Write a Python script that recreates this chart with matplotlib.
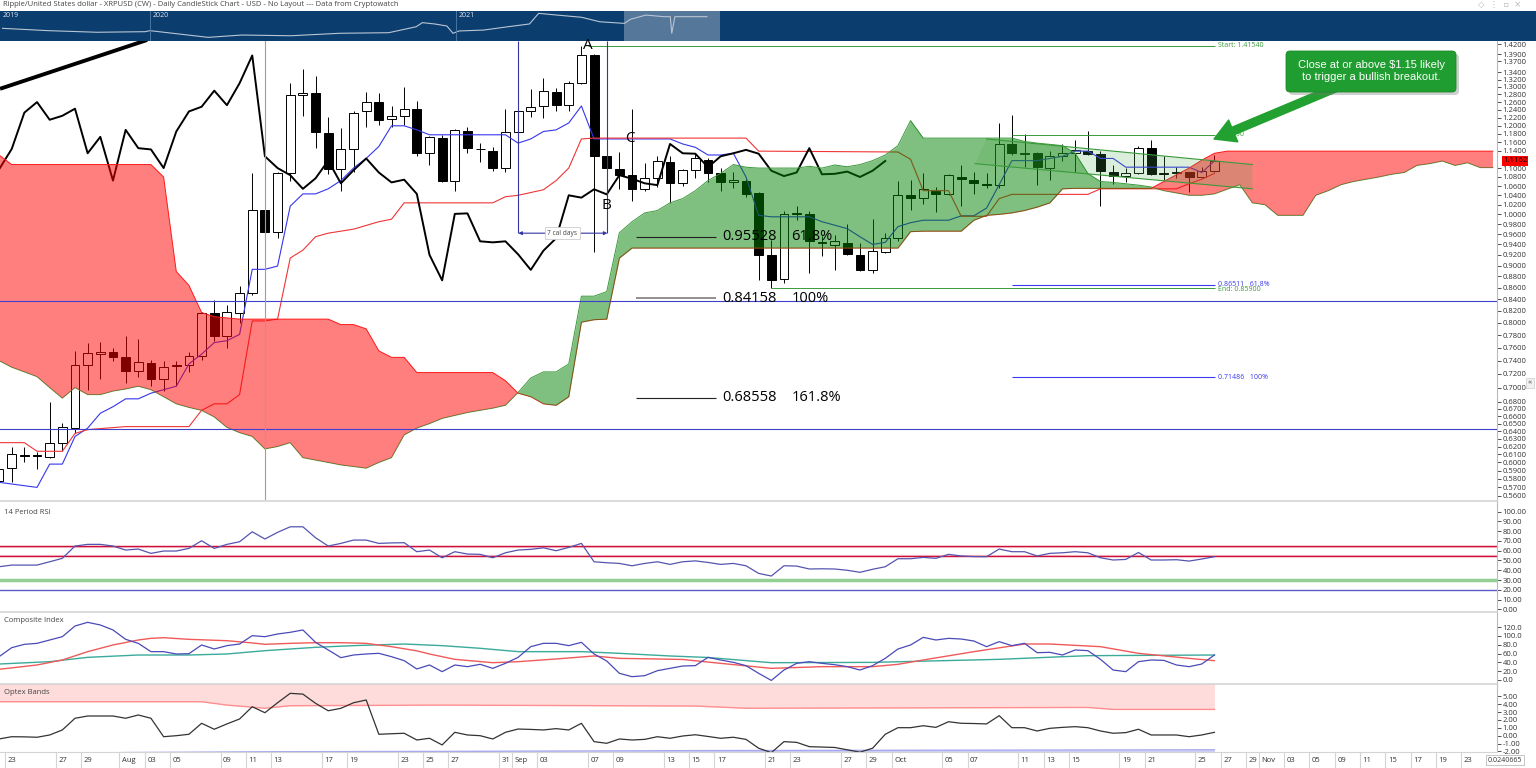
import numpy as np
import pandas as pd
import matplotlib
matplotlib.use("Agg")
import matplotlib.pyplot as plt
from matplotlib.patches import FancyBboxPatch, FancyArrowPatch, Polygon
from matplotlib.transforms import IdentityTransform
from matplotlib.ticker import FixedLocator, FormatStrFormatter, NullLocator

W, H = 1536, 768
plt.rcParams['font.family'] = ['Open Sans', 'DejaVu Sans']

# bar 0 = 2021-07-23, bar 95 = 2021-10-26 (last candle); after that the axis counts business days
first_day = pd.Timestamp('2021-07-23')
last_day = pd.Timestamp('2021-10-26')
last_bar = 95

# daily candles, bars -1 .. 95
opens = [0.578, 0.593, 0.609, 0.609, 0.607, 0.625, 0.644, 0.733, 0.750, 0.753,
         0.745, 0.725, 0.737, 0.713, 0.732, 0.733, 0.747, 0.816, 0.778, 0.817,
         0.850, 1.008, 0.964, 1.090, 1.279, 1.283, 1.182, 1.097, 1.144, 1.236,
         1.260, 1.217, 1.225, 1.243, 1.134, 1.171, 1.072, 1.188, 1.145, 1.139,
         1.100, 1.186, 1.238, 1.250, 1.287, 1.252, 1.310, 1.387, 1.127, 1.097,
         1.084, 1.054, 1.078, 1.113, 1.066, 1.095, 1.118, 1.088, 1.068, 1.072,
         1.045, 0.920, 0.875, 1.000, 1.000, 0.942, 0.939, 0.943, 0.920, 0.892,
         0.926, 0.952, 1.040, 1.035, 1.050, 1.042, 1.081, 1.074, 1.065, 1.063,
         1.156, 1.135, 1.134, 1.101, 1.127, 1.134, 1.140, 1.133, 1.092, 1.082,
         1.088, 1.146, 1.089, 1.088, 1.091, 1.080, 1.094]
highs = [0.597, 0.620, 0.620, 0.613, 0.679, 0.651, 0.755, 0.767, 0.769, 0.759,
         0.778, 0.774, 0.741, 0.740, 0.740, 0.754, 0.818, 0.839, 0.829, 0.862,
         1.088, 1.009, 1.091, 1.310, 1.348, 1.330, 1.222, 1.194, 1.238, 1.287,
         1.283, 1.250, 1.300, 1.263, 1.175, 1.177, 1.192, 1.197, 1.158, 1.148,
         1.242, 1.238, 1.295, 1.325, 1.298, 1.315, 1.4154, 1.390, 1.130, 1.136,
         1.243, 1.111, 1.127, 1.127, 1.098, 1.134, 1.122, 1.100, 1.092, 1.075,
         1.047, 0.948, 1.007, 1.017, 1.007, 0.956, 0.958, 0.981, 0.943, 0.991,
         0.963, 1.070, 1.074, 1.088, 1.059, 1.086, 1.107, 1.091, 1.089, 1.207,
         1.228, 1.180, 1.136, 1.139, 1.155, 1.165, 1.188, 1.139, 1.107, 1.100,
         1.152, 1.165, 1.128, 1.102, 1.092, 1.103, 1.130]
lows = [0.574, 0.576, 0.600, 0.592, 0.606, 0.614, 0.637, 0.697, 0.712, 0.740,
        0.707, 0.715, 0.702, 0.695, 0.702, 0.723, 0.741, 0.771, 0.760, 0.800,
        0.847, 0.963, 0.952, 1.072, 1.225, 1.146, 1.086, 1.050, 1.092, 1.198,
        1.202, 1.198, 1.202, 1.127, 1.106, 1.069, 1.050, 1.134, 1.113, 1.094,
        1.092, 1.184, 1.222, 1.220, 1.236, 1.238, 1.308, 0.926, 1.097, 1.054,
        1.028, 1.050, 1.059, 1.023, 1.060, 1.078, 1.068, 1.050, 1.056, 1.037,
        0.873, 0.859, 0.869, 0.988, 0.887, 0.917, 0.891, 0.920, 0.890, 0.887,
        0.923, 0.946, 1.008, 1.022, 1.005, 1.040, 1.018, 1.043, 1.055, 1.055,
        1.130, 1.103, 1.063, 1.074, 1.117, 1.092, 1.130, 1.018, 1.065, 1.068,
        1.086, 1.084, 1.074, 1.078, 1.047, 1.078, 1.092]
closes = [0.592, 0.610, 0.608, 0.608, 0.624, 0.645, 0.733, 0.751, 0.754, 0.745,
          0.724, 0.738, 0.713, 0.730, 0.734, 0.747, 0.817, 0.778, 0.818, 0.850,
          1.009, 0.964, 1.090, 1.279, 1.285, 1.186, 1.097, 1.144, 1.233, 1.260,
          1.215, 1.225, 1.243, 1.134, 1.173, 1.072, 1.190, 1.146, 1.143, 1.100,
          1.186, 1.236, 1.248, 1.290, 1.252, 1.310, 1.387, 1.127, 1.100, 1.084,
          1.054, 1.077, 1.117, 1.066, 1.095, 1.122, 1.090, 1.068, 1.074, 1.043,
          0.920, 0.873, 1.001, 1.002, 0.946, 0.944, 0.946, 0.921, 0.892, 0.928,
          0.952, 1.040, 1.035, 1.053, 1.042, 1.084, 1.076, 1.066, 1.062, 1.156,
          1.134, 1.133, 1.102, 1.127, 1.134, 1.142, 1.133, 1.094, 1.082, 1.090,
          1.146, 1.086, 1.087, 1.092, 1.080, 1.094, 1.1162]

# Ichimoku lines (bar, price)
tenkan_bar = [-1, 2, 3, 4, 5, 6, 7, 8, 9, 10, 11, 12, 13, 14, 15, 16, 17, 18, 19, 20,
              21, 22, 23, 24, 25, 26, 27, 28, 29, 30, 31, 32, 33, 39, 40, 41, 42, 43,
              44, 45, 46, 52, 53, 54, 55, 56, 57, 58, 59, 60, 63, 64, 65, 66, 67, 68,
              69, 70, 71, 72, 74, 75, 76, 77, 78, 79, 81, 82, 83, 84, 85, 86, 87, 88,
              93, 94, 95]
tenkan = [0.576, 0.570, 0.598, 0.598, 0.633, 0.644, 0.664, 0.673, 0.684, 0.684,
          0.692, 0.697, 0.702, 0.735, 0.750, 0.768, 0.771, 0.781, 0.893, 0.893,
          0.899, 1.017, 1.043, 1.043, 1.054, 1.072, 1.100, 1.122, 1.150, 1.200,
          1.200, 1.190, 1.178, 1.178, 1.158, 1.168, 1.186, 1.190, 1.207, 1.250,
          1.168, 1.168, 1.156, 1.148, 1.130, 1.130, 1.134, 1.080, 0.998, 0.995,
          0.995, 0.985, 0.978, 0.971, 0.955, 0.940, 0.944, 0.975, 0.983, 0.988,
          0.988, 0.997, 0.997, 1.013, 1.063, 1.117, 1.117, 1.122, 1.127, 1.139,
          1.139, 1.122, 1.122, 1.102, 1.102, 1.090, 1.116]
kijun_bar = [-1, 1, 2, 4, 5, 6, 9, 14, 15, 16, 17, 18, 19, 20, 21, 22, 23, 24, 25, 27,
             29, 30, 31, 38, 39, 40, 42, 43, 44, 45, 46, 58, 59, 70, 71, 72, 74, 75,
             77, 78, 79, 85, 86, 92, 93, 94, 95]
kijun = [0.625, 0.625, 0.614, 0.614, 0.637, 0.642, 0.646, 0.646, 0.668, 0.677,
         0.677, 0.690, 0.803, 0.803, 0.806, 0.914, 0.929, 0.955, 0.962, 0.970,
         0.985, 0.990, 1.024, 1.024, 1.037, 1.040, 1.052, 1.072, 1.100, 1.168,
         1.170, 1.170, 1.139, 1.137, 1.120, 1.050, 1.050, 0.996, 0.996, 1.033,
         1.042, 1.042, 1.054, 1.054, 1.065, 1.075, 1.088]

# cloud, bars -1 .. 117
span_b = ([1.13] + [1.108] * 12 + [1.08, 0.889, 0.864, 0.817, 0.81, 0.808] + [0.806] * 8
          + [0.797, 0.797, 0.79, 0.755, 0.745, 0.745] + [0.722] * 7
          + [0.71, 0.692, 0.687, 0.677, 0.675, 0.687, 0.801, 0.805, 0.806, 0.914]
          + [0.933] * 22 + [0.965] + [0.966] * 4
          + [0.988, 0.998, 1.0, 1.003, 1.008, 1.015, 1.024, 1.054] + [1.055] * 7
          + [1.07, 1.085, 1.10, 1.118, 1.134] + [1.139] * 22)
span_a = ([0.74, 0.73, 0.723, 0.716, 0.70, 0.685, 0.70, 0.69, 0.69, 0.695, 0.698, 0.702,
           0.697, 0.687, 0.677, 0.672, 0.668, 0.659, 0.645, 0.638, 0.633, 0.617, 0.62,
           0.625, 0.606, 0.603, 0.60, 0.597, 0.595, 0.593, 0.60, 0.606]
          + [0.635, 0.644, 0.65, 0.657, 0.661, 0.665, 0.668, 0.671, 0.675, 0.693, 0.714,
             0.723, 0.723, 0.735, 0.845, 0.845, 0.853, 0.963, 0.985, 1.003, 1.008, 1.024,
             1.033, 1.05, 1.072, 1.088, 1.108, 1.102]
          + [1.10] * 4 + [1.104, 1.10, 1.107, 1.103, 1.108, 1.117, 1.13, 1.152, 1.213]
          + [1.17] * 8
          + [1.162, 1.158, 1.155, 1.152, 1.134, 1.088, 1.07, 1.068, 1.065, 1.062, 1.058,
             1.05, 1.045, 1.04, 1.04, 1.043]
          + [1.053, 1.063, 1.024, 1.02, 0.998, 0.998, 0.998, 1.04, 1.05, 1.063, 1.07,
             1.075, 1.08, 1.086, 1.09, 1.106, 1.11, 1.116, 1.106, 1.112, 1.101, 1.101])

price_ticks = [1.42, 1.39, 1.37, 1.34, 1.32, 1.30, 1.28, 1.26, 1.24, 1.22, 1.20, 1.18,
               1.16, 1.14, 1.10, 1.08, 1.06, 1.04, 1.02, 1.00, 0.98, 0.96, 0.94, 0.92,
               0.90, 0.88, 0.86, 0.84, 0.82, 0.80, 0.78, 0.76, 0.74, 0.72, 0.70, 0.68,
               0.67, 0.66, 0.65, 0.64, 0.63, 0.62, 0.61, 0.60, 0.59, 0.58, 0.57, 0.56]

# indicators, bars -1 .. 95
rsi = [43.6, 45.3, 45.3, 45.3, 48.7, 52.2, 64.8, 66.5, 66.5, 64.8, 60.7, 61.7, 57.3,
       59.7, 59.7, 62.4, 70.2, 62.4, 66.5, 69.2, 79.4, 72.0, 78.8, 84.5, 84.5, 73.3,
       64.8, 67.5, 70.9, 70.9, 67.5, 68.0, 68.2, 59.0, 60.7, 52.8, 59.0, 56.6, 56.3,
       52.8, 57.9, 60.7, 61.4, 63.0, 60.0, 63.4, 67.5, 48.7, 47.7, 47.0, 44.6, 47.0,
       48.7, 46.0, 48.7, 49.6, 48.0, 46.0, 47.0, 44.6, 36.8, 34.1, 44.6, 44.3, 41.3,
       41.5, 41.3, 40.0, 37.9, 41.0, 43.6, 51.8, 51.8, 53.2, 52.2, 56.3, 54.6, 54.0,
       53.9, 61.7, 59.0, 59.0, 54.6, 57.3, 57.9, 59.0, 57.9, 52.8, 50.5, 51.1, 58.2,
       50.5, 50.5, 50.8, 49.4, 51.5, 53.9]
rsi_levels = [65, 55, 30, 20]

composite = [52.8, 73.2, 80.8, 83, 90.6, 98.1, 122.3, 130.6, 124.6, 113.3,
             92.1, 83, 64.2, 64.2, 58.9, 59.6, 79.3, 70.2, 77.8, 81.5,
             100.4, 98.1, 104.2, 108, 113.3, 85.3, 68, 50.6, 56.6, 58.9,
             60.4, 52.8, 43.8, 24.9, 34, 18.9, 34, 30.2, 35.5, 26.4,
             37.7, 51.3, 75.5, 83, 83, 77.8, 85.3, 58.9, 43, 15.1,
             7.5, 9.8, 21.1, 26.4, 31.7, 32.5, 51.3, 45.3, 40, 32.5,
             15.1, -1.0, 22.6, 37.7, 41.5, 37.7, 34.7, 30.2, 22.6, 32.5,
             49, 70.2, 79.3, 96.6, 90.6, 94.3, 92.8, 88.3, 75.5, 86.8,
             77.8, 83, 61.9, 62.6, 56.6, 68, 66.5, 46.8, 22.6, 18.9,
             41.5, 45.3, 44.5, 34, 30.2, 36.2, 56.6]
ci_fast_bar = [-1, 2, 4, 6, 8, 10, 11, 12, 14, 17, 19, 20, 22, 24, 26, 28, 30, 32, 33, 35,
               38, 40, 43, 46, 48, 51, 53, 56, 60, 64, 68, 70, 72, 76, 80, 82, 86, 89, 93, 95]
ci_fast = [24.2, 34, 45.3, 64.2, 79.3, 90.6, 94.3, 95.8, 92.1, 89, 84, 80.8, 83, 84.5,
           84.5, 83, 75.5, 66, 58.9, 46.8, 39.2, 41.5, 47.6, 54.4, 49, 47.6, 46.5, 37.7,
           26.4, 30.2, 30.2, 35.5, 45.3, 64.2, 81.5, 81.5, 75.5, 60.4, 49, 43.8]
ci_slow_bar = [-1, 3, 6, 10, 14, 17, 20, 24, 27, 31, 34, 37, 40, 45, 48, 52, 55, 60, 68,
               78, 85, 95]
ci_slow = [36.2, 41.5, 51.3, 56.6, 56.6, 58.9, 66.4, 74, 77.8, 81.5, 77.8, 71.8, 64.2,
           64.2, 60.4, 54.4, 51, 39.2, 39.9, 46.8, 55.1, 56.6]

optex = [-0.42, -0.13, -0.15, -0.2, 0.09, 0.73, 2.22, 2.51, 2.51, 2.51,
         2.22, 2.64, 2.22, -0.13, 0.0, 0.18, 1.58, 0.82, 1.5, 2.13,
         3.69, 2.93, 4.2, 5.4, 5.3, 4.13, 3.18, 3.49, 4.2, 4.55,
         0.18, 0.25, 0.31, -0.55, -0.33, -1.18, 0.43, 0.09, 0.0, -0.42,
         0.43, 0.85, 0.8, 0.73, 0.9, 0.73, 1.58, -0.76, -0.97, -0.42,
         -0.55, -0.47, -0.13, -0.33, -0.04, 0.12, -0.1, -0.33, -0.2, -0.47,
         -1.6, -2.16, -0.76, -0.85, -1.4, -1.45, -1.5, -1.8, -2.1, -1.6,
         0.18, 1.02, 1.02, 1.27, 1.06, 1.78, 1.58, 1.55, 1.5, 2.55,
         1.02, 1.02, 0.6, 0.94, 1.06, 1.15, 1.02, 0.6, 0.31, 0.39,
         0.82, 0.09, 0.09, 0.09, -0.13, 0.09, 0.43]
optex_up_bar = [-1, 15, 17, 20, 22, 34, 54, 58, 85, 87, 95]
optex_up = [4.33, 4.33, 3.9, 3.5, 3.82, 3.9, 3.78, 3.5, 3.6, 3.35, 3.35]
optex_lo_bar = [-1, 9, 20, 35, 55, 75, 95]
optex_lo = [-2.4, -2.15, -2.05, -2.0, -1.9, -1.85, -1.8]

# navigator: whole history (year, price)
nav_year = [2019.518, 2019.668, 2019.827, 2019.984, 2020.0, 2020.19, 2020.30, 2020.46,
            2020.62, 2020.78, 2020.87, 2020.89, 2020.93, 2020.97, 2020.99, 2021.01,
            2021.09, 2021.17, 2021.24, 2021.27, 2021.33, 2021.41, 2021.47, 2021.55,
            2021.57, 2021.62, 2021.68, 2021.70, 2021.705, 2021.715, 2021.81, 2021.82]
nav_price = [0.87, 0.71, 0.60, 0.64, 0.71, 0.25, 0.41, 0.36, 0.53, 0.57, 0.98, 1.26,
             1.17, 1.03, 0.53, 0.69, 0.75, 0.98, 1.17, 1.90, 1.78, 1.63, 1.32, 1.21,
             1.49, 1.78, 1.67, 1.67, 0.53, 1.67, 1.67, 1.67]

date_labels = ['2021-07-23', '2021-07-27', '2021-07-29', '2021-08-01', '2021-08-03',
               '2021-08-05', '2021-08-09', '2021-08-11', '2021-08-13', '2021-08-17',
               '2021-08-19', '2021-08-23', '2021-08-25', '2021-08-27', '2021-08-31',
               '2021-09-01', '2021-09-03', '2021-09-07', '2021-09-09', '2021-09-13',
               '2021-09-15', '2021-09-17', '2021-09-21', '2021-09-23', '2021-09-27',
               '2021-09-29', '2021-10-01', '2021-10-05', '2021-10-07', '2021-10-11',
               '2021-10-13', '2021-10-15', '2021-10-19', '2021-10-21', '2021-10-25',
               '2021-10-27', '2021-10-29', '2021-11-01', '2021-11-03', '2021-11-05',
               '2021-11-09', '2021-11-11', '2021-11-15', '2021-11-17', '2021-11-19',
               '2021-11-23']


def bar_of(d):
    d = pd.Timestamp(d)
    if d <= last_day:
        return (d - first_day).days
    start = (last_day + pd.Timedelta(days=1)).date()
    return last_bar + int(np.busday_count(start, d.date())) + 1


def fr(x0, y0, x1, y1):
    return [x0 / W, 1 - y1 / H, (x1 - x0) / W, (y1 - y0) / H]


bars = np.arange(-1, -1 + len(opens))
o = np.array(opens); hi = np.array(highs); lo = np.array(lows); c = np.array(closes)
ck = np.arange(-1, -1 + len(span_a))
sa = np.array(span_a); sb = np.array(span_b)
XL = (-0.924, 117.32)

fig = plt.figure(figsize=(W / 100, H / 100), dpi=100)
ax_nav = fig.add_axes(fr(0, 11, W, 41))
ax = fig.add_axes(fr(0, 41, 1497, 500))
ax_rsi = fig.add_axes(fr(0, 501, 1497, 611))
ax_ci = fig.add_axes(fr(0, 612, 1497, 683))
ax_opt = fig.add_axes(fr(0, 684, 1497, 752))
ax_date = fig.add_axes(fr(0, 752, 1497, 768))

# ---- navigator
ax_nav.set_facecolor('#0b3d6f')
ax_nav.set_xlim(2019.5098, 2024.529)
ax_nav.set_ylim(0, 2.06)
ax_nav.set_xticks([]); ax_nav.set_yticks([])
for s in ax_nav.spines.values():
    s.set_visible(False)
ax_nav.plot(nav_year, nav_price, color='#b9c5d3', lw=0.8)
for yr in (2020.0, 2021.0):
    ax_nav.axvline(yr, color='#4d74a0', lw=0.7)
for yr, lab in ((2019.52, '2019'), (2020.01, '2020'), (2021.01, '2021')):
    ax_nav.text(yr, 2.0, lab, color='#dfe6ee', fontsize=5, va='top')
ax_nav.axvspan(2021.549, 2021.863, color='white', alpha=0.3, lw=0)

# ---- main price chart
ax.set_xlim(XL)
ax.set_yscale('log')
ax.set_ylim(0.5554, 1.4289)
ax.yaxis.tick_right()
ax.yaxis.set_major_locator(FixedLocator(price_ticks))
ax.yaxis.set_major_formatter(FormatStrFormatter('%.4f'))
ax.yaxis.set_minor_locator(NullLocator())
ax.tick_params(axis='y', labelsize=5.5, length=3, width=0.6, colors='#333333', pad=1)
ax.set_xticks([])
for s in ('top', 'left', 'bottom'):
    ax.spines[s].set_visible(False)
ax.spines['right'].set_color('#bbbbbb')

up = c >= o
ax.vlines(bars, lo, hi, color='black', lw=0.7, zorder=2)
ax.bar(bars, np.maximum(np.abs(c - o), 0.0008), bottom=np.minimum(o, c), width=0.7,
       color=np.where(up, 'white', 'black'), edgecolor='black', lw=0.7, zorder=3)

ax.plot(tenkan_bar, tenkan, color='#3535ee', lw=0.8, zorder=4)
ax.plot(kijun_bar, kijun, color='#f03535', lw=0.8, zorder=4)
ax.plot(bars[26:] - 26, c[26:], color='black', lw=1.4, zorder=4)

ax.plot(ck, sa, color='#3d9a3d', lw=0.7, zorder=4)
ax.plot(ck, sb, color='#ff2020', lw=0.7, zorder=4)
ax.fill_between(ck, sa, sb, where=sa >= sb, interpolate=True, color=(0, 0.5, 0),
                alpha=0.5, lw=0, zorder=5)
ax.fill_between(ck, sa, sb, where=sa < sb, interpolate=True, color=(1, 0, 0),
                alpha=0.5, lw=0, zorder=5)

# descending channel
chan = [(77.0, 1.168), (98.0, 1.108), (98.0, 1.054), (76.1, 1.110)]
ax.add_patch(Polygon(chan, closed=True, fc=(0.3, 0.65, 0.3), alpha=0.2, ec='none', zorder=6))
ax.plot([77.0, 98.0], [1.168, 1.108], color='#3a9a3a', lw=0.8, zorder=6)
ax.plot([76.1, 98.0], [1.110, 1.054], color='#3a9a3a', lw=0.8, zorder=6)

# trendline top-left
ax.plot([-0.92, 10.7], [1.295, 1.432], color='black', lw=2.8, solid_capstyle='butt', zorder=7)

# horizontal levels
ax.axhline(0.8365, color='#4040d0', lw=0.8, zorder=6)
ax.axhline(0.6424, color='#4040d0', lw=0.8, zorder=6)
ax.axvline(20.0, color='#aaa274', lw=0.8, zorder=6)

green = '#3a9a3a'
ax.hlines(1.4154, 45.5, 95.05, color=green, lw=0.7, zorder=6)
ax.hlines(1.1779, 79.0, 95.05, color=green, lw=0.7, zorder=6)
ax.hlines(0.859, 60.0, 95.05, color=green, lw=0.7, zorder=6)
ax.hlines([0.86511, 0.71486], 79.0, 95.05, color='#3a3af0', lw=0.8, zorder=6)
ax.text(95.28, 1.4154, 'Start: 1.41540', color=green, fontsize=5, va='center')
ax.text(95.28, 1.1779, '1.17790', color=green, fontsize=5, va='center')
ax.text(95.28, 0.8655, '0.86511   61.8%', color='#3a3af0', fontsize=5, va='center')
ax.text(95.28, 0.8575, 'End: 0.85900', color=green, fontsize=5, va='center')
ax.text(95.28, 0.71486, '0.71486   100%', color='#3a3af0', fontsize=5, va='center')

for lvl, pct, col, lw in ((0.95528, '61.8%', '#222222', 0.8), (0.84158, '100%', '#888888', 1.3),
                          (0.68558, '161.8%', '#222222', 0.8)):
    ax.hlines(lvl, 49.3, 55.6, color=col, lw=lw, zorder=7)
    ax.text(56.1, lvl, '%.5f' % lvl, fontsize=10.5, va='center', zorder=8)
    ax.text(61.6, lvl, pct, fontsize=10.5, va='center', zorder=8)

ax.text(45.5, 1.415, 'A', fontsize=11, ha='center', va='center', zorder=8)
ax.text(47.0, 1.018, 'B', fontsize=11, ha='center', va='center', zorder=8)
ax.text(48.8, 1.17, 'C', fontsize=11, ha='center', va='center', zorder=8)

# date range tool
navy = '#3535a5'
ax.vlines([40.02, 47.05], 0.962, 1.4289, color=navy, lw=0.8, zorder=7)
ax.annotate('', xy=(40.02, 0.962), xytext=(47.05, 0.962), zorder=7,
            arrowprops=dict(arrowstyle='<|-|>', color=navy, lw=0.8, mutation_scale=5,
                            shrinkA=0, shrinkB=0))
ax.text(43.5, 0.962, '7 cal days', fontsize=4.8, ha='center', va='center', color='#444', zorder=8,
        bbox=dict(boxstyle='square,pad=0.35', fc='white', ec='#cccccc', lw=0.6))

# last price tag
ax.text(1.004, closes[-1], '%.4f' % closes[-1], transform=ax.get_yaxis_transform(),
        fontsize=5.5, va='center', ha='left', color='black', zorder=9,
        bbox=dict(boxstyle='square,pad=0.15', fc='#ff0000', ec='none'))

# callout with arrow
arrow = FancyArrowPatch(posA=(1345, H - 84), posB=(1214, H - 139),
                        arrowstyle='simple,head_length=0.75,head_width=0.85,tail_width=0.28',
                        mutation_scale=20, color='#22a030', shrinkA=0, shrinkB=0,
                        transform=IdentityTransform())
fig.add_artist(arrow)
fig.add_artist(FancyBboxPatch((1289, H - 95), 170, 41, boxstyle='round,pad=0,rounding_size=4',
                              fc='#777777', ec='none', alpha=0.35, transform=IdentityTransform()))
fig.add_artist(FancyBboxPatch((1286, H - 92), 170, 41, boxstyle='round,pad=0,rounding_size=4',
                              fc='#1f9d30', ec='#1a8a2a', lw=0.6, transform=IdentityTransform()))
fig.text(1371 / W, 1 - 71.5 / H, 'Close at or above $1.15 likely\nto trigger a bullish breakout.',
         ha='center', va='center', color='white', fontsize=8, linespacing=1.25,
         family=['Liberation Sans', 'DejaVu Sans'])

# ---- indicator panels
def panel(a, ylim, ticks, fmt, title):
    a.set_xlim(XL)
    a.set_ylim(ylim)
    a.yaxis.tick_right()
    a.set_yticks(ticks)
    a.yaxis.set_major_formatter(FormatStrFormatter(fmt))
    a.tick_params(axis='y', labelsize=5.5, length=3, width=0.6, colors='#333333', pad=1)
    a.set_xticks([])
    for s in ('left', 'bottom'):
        a.spines[s].set_visible(False)
    a.spines['top'].set_color('#d4d4d4')
    a.spines['top'].set_linewidth(1.2)
    a.spines['right'].set_color('#bbbbbb')
    a.text(0.003, 0.93, title, transform=a.transAxes, fontsize=5.5, color='#444444', va='top')

panel(ax_rsi, (-1.7, 110.9), np.arange(0, 101, 10), '%.2f', '14 Period RSI')
for lev in rsi_levels[:2]:
    ax_rsi.axhline(lev - 0.9, color='#f7cdd5', lw=1.6)
    ax_rsi.axhline(lev, color='#cc1038', lw=1)
ax_rsi.axhline(rsi_levels[2], color='#94d094', lw=2.5)
ax_rsi.axhline(rsi_levels[3], color='#5c5cc8', lw=1)
ax_rsi.plot(bars, rsi, color='#5555b0', lw=0.9)

panel(ax_ci, (-6.8, 154), np.arange(0, 121, 20), '%.1f', 'Composite Index')
ax_ci.plot(ci_slow_bar, ci_slow, color='#3aaa9a', lw=1.0)
ax_ci.plot(ci_fast_bar, ci_fast, color='#f05a5a', lw=1.0)
ax_ci.plot(bars, composite, color='#4a4ab8', lw=0.9)

panel(ax_opt, (-2.08, 6.59), np.arange(-2, 6, 1), '%.2f', 'Optex Bands')
ax_opt.fill_between(optex_up_bar, optex_up, 10, color='#ffdcdc', lw=0)
ax_opt.plot(optex_up_bar, optex_up, color='#ff8f8f', lw=1)
ax_opt.fill_between(optex_lo_bar, optex_lo, -5, color='#cfcff5', lw=0)
ax_opt.plot(optex_lo_bar, optex_lo, color='#a8a8ee', lw=1)
ax_opt.plot(bars, optex, color='#333333', lw=0.9)

# ---- date axis
ax_date.set_xlim(XL)
ax_date.set_ylim(0, 1)
ax_date.set_xticks([]); ax_date.set_yticks([])
for s in ('left', 'bottom', 'right'):
    ax_date.spines[s].set_visible(False)
ax_date.spines['top'].set_color('#d4d4d4')
for d in date_labels:
    ts = pd.Timestamp(d)
    k = bar_of(ts)
    lab = ts.strftime('%b') if ts.day == 1 else ts.strftime('%d')
    ax_date.axvline(k - 0.5, color='#d4d4d4', lw=0.8)
    ax_date.text(k - 0.3, 0.45, lab, fontsize=5.5, va='center', color='#333333')

# ---- header and corners
fig.text(3 / W, 1 - 5 / H, 'Ripple/United States dollar - XRPUSD (CW) - Daily CandleStick Chart'
         ' - USD - No Layout --- Data from Cryptowatch', fontsize=5.5, va='center', color='#444444')
fig.text(1478 / W, 1 - 5 / H, '\u25c7  \u22ee  \u25ab  \u00d7', fontsize=6, va='center',
         color='#b5b5b5', family=['DejaVu Sans'])
fig.text(1488 / W, 1 - 760 / H, '0.0240665', fontsize=5, va='center', color='#333333',
         bbox=dict(boxstyle='square,pad=0.25', fc='white', ec='#bbbbbb', lw=0.6))
fig.text(1528 / W, 1 - 383 / H, '\u00ab', fontsize=6, va='center', color='#555555',
         bbox=dict(boxstyle='square,pad=0.2', fc='#f2f2f2', ec='#cccccc', lw=0.5))

fig.savefig('out.png', dpi=100)
